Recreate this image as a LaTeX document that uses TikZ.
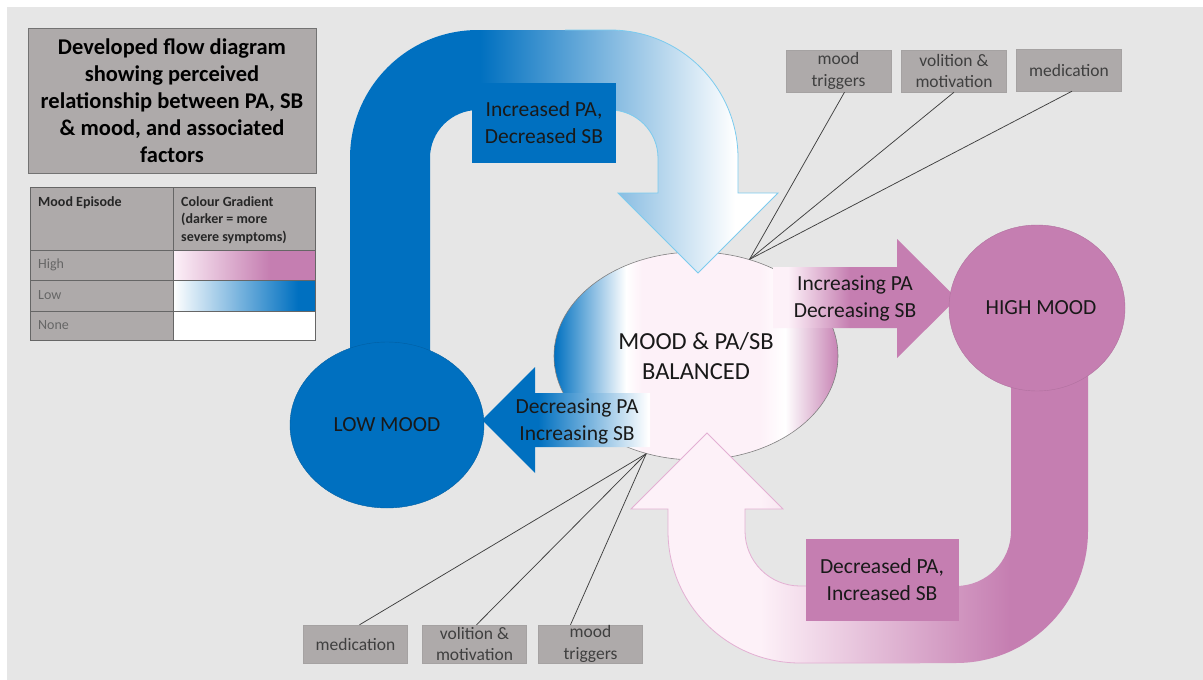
\documentclass[tikz,border=0pt]{standalone}
\usepackage{fontspec}
\setmainfont{Carlito}
\usetikzlibrary{shapes.geometric}

\definecolor{bg}{HTML}{E6E6E6}
\definecolor{mblue}{HTML}{0070C0}
\definecolor{mpink}{HTML}{C57EB1}
\definecolor{palepink}{HTML}{FDF1F8}
\definecolor{boxgrey}{HTML}{AEAAAA}
\definecolor{txtgrey}{HTML}{3F3F3F}
\definecolor{edgeblue}{HTML}{7CCBEE}
\definecolor{edgepink}{HTML}{E3B0D3}

% outline of the blue U-shaped arrow (low mood -> balanced)
\def\bluearcpath{(350,365) -- (350,158) .. controls (350,87.3) and (407.3,30) .. (478,30) -- (610,30) .. controls (680.7,30) and (738,87.3) .. (738,158) -- (738,193) -- (778,193) -- (698,273) -- (618,193) -- (658,193) -- (658,158) .. controls (658,131.5) and (636.5,110) .. (610,110) -- (478,110) .. controls (451.5,110) and (430,131.5) .. (430,158) -- (430,365) -- cycle}
% outline of the pink U-shaped arrow (high mood -> balanced)
\def\pinkarcpath{(707,433) -- (783,509) -- (745,509) -- (745,531) .. controls (745,561.4) and (769.6,586) .. (800,586) -- (956,586) .. controls (986.4,586) and (1011,561.4) .. (1011,531) -- (1011,360) -- (1088,360) -- (1088,531) .. controls (1088,603.9) and (1028.9,663) .. (956,663) -- (800,663) .. controls (727.1,663) and (668,603.9) .. (668,531) -- (668,509) -- (631,509) -- cycle}
% straight arrows
\def\rightarrowpath{(773,267) -- (897,267) -- (897,239) -- (957,298.5) -- (897,358) -- (897,328) -- (773,328) -- cycle}
\def\leftarrowpath{(650,393) -- (535,393) -- (535,367) -- (482,420) -- (535,473) -- (535,447) -- (650,447) -- cycle}

\begin{document}
\begin{tikzpicture}[x=1pt,y=-1pt,
  lbl/.style={font=\fontsize{21.5}{27}\selectfont, align=center, text=black!90},
  factor/.style={fill=boxgrey, draw=boxgrey!95!black, line width=0.4pt, minimum width=105pt, minimum height=42pt, inner sep=0pt, align=center, text=txtgrey, font=\fontsize{17.5}{21.5}\selectfont},
  factorlow/.style={factor, minimum width=104pt, minimum height=38pt},
  link/.style={draw=black!75, line width=0.75pt},
  mood/.style={ellipse, inner sep=0pt, align=center, font=\fontsize{21.5}{27}\selectfont, text=black!90},
  hdr/.style={anchor=north west, inner sep=0pt, align=left, font=\bfseries\fontsize{14}{17.5}\selectfont, text=black!85},
  rowlbl/.style={anchor=west, inner sep=0pt, font=\fontsize{14}{17}\selectfont, text=black!60},
]
\useasboundingbox (0,0) rectangle (1203,680);
\fill[white] (0,0) rectangle (1203,680);
\fill[bg] (7,7) rectangle (1203,680);

% ---------- title and legend ----------
\node[draw=black!55, fill=boxgrey, line width=0.8pt, minimum width=288pt, minimum height=145pt, inner sep=0pt, align=center, font=\bfseries\fontsize{22.5}{27}\selectfont] (title) at (172,100.5)
  {Developed flow diagram\\showing perceived\\relationship between PA, SB\\\& mood, and associated\\factors};

\fill[boxgrey] (30,187) rectangle (315,250);
\fill[boxgrey] (30,250) rectangle (173,340);
\shade[left color=palepink, right color=mpink] (173,250) rectangle (270,280);
\fill[mpink] (270,250) rectangle (315,280);
\shade[left color=white, right color=mblue] (173,280) rectangle (298,311);
\fill[mblue] (298,280) rectangle (315,311);
\fill[white] (173,311) rectangle (315,340);
\draw[black!60, line width=0.8pt] (30,187) rectangle (315,340)
  (173,187) -- (173,340) (30,250) -- (315,250) (30,280) -- (315,280) (30,311) -- (315,311);
\node[hdr] (hdrepisode) at (38,196) {Mood Episode};
\node[hdr] (hdrgradient) at (181,196) {Colour Gradient\\(darker = more\\severe symptoms)};
\node[rowlbl] (rowhigh) at (38,265) {High};
\node[rowlbl] (rowlow) at (38,295.5) {Low};
\node[rowlbl] (rownone) at (38,325.5) {None};

% ---------- balanced state ----------
\begin{scope}
  \clip (696,356) ellipse [x radius=142pt, y radius=104pt];
  \fill[palepink] (550,250) rectangle (842,462);
  \shade[left color=mblue, right color=white] (554,250) rectangle (626,462);
  \shade[left color=white, right color=palepink] (626,250) rectangle (642,462);
  \shade[left color=palepink, right color=white] (760,250) rectangle (785,462);
  \shade[left color=white, right color=mpink] (785,250) rectangle (840,462);
\end{scope}
\node[mood, draw=black!50, line width=0.6pt, minimum width=284pt, minimum height=208pt, font=\fontsize{24.5}{30}\selectfont] (mid) at (696,356) {MOOD \& PA/SB\\BALANCED};

% ---------- blue U arrow ----------
\begin{scope}
  \clip \bluearcpath;
  \fill[mblue] (340,20) rectangle (480,370);
  \shade[left color=mblue, right color=white] (480,20) rectangle (735,370);
  \fill[white] (735,20) rectangle (790,370);
\end{scope}
\begin{scope}
  \clip (565,0) rectangle (800,300);
  \draw[edgeblue, line width=0.8pt] \bluearcpath;
\end{scope}

% ---------- pink U arrow ----------
\begin{scope}
  \clip \pinkarcpath;
  \fill[palepink] (620,420) rectangle (760,670);
  \shade[left color=palepink, right color=mpink] (760,420) rectangle (1010,670);
  \fill[mpink] (1010,350) rectangle (1100,670);
\end{scope}
\begin{scope}
  \clip (600,400) rectangle (920,680);
  \draw[edgepink, line width=0.8pt] \pinkarcpath;
\end{scope}

% ---------- straight arrows ----------
\begin{scope}
  \clip \rightarrowpath;
  \fill[palepink] (770,230) rectangle (788,365);
  \shade[left color=palepink, right color=mpink] (788,230) rectangle (850,365);
  \fill[mpink] (850,230) rectangle (960,365);
\end{scope}
\begin{scope}
  \clip \leftarrowpath;
  \fill[mblue] (480,360) rectangle (538,480);
  \shade[left color=mblue, right color=white] (538,360) rectangle (648,480);
  \fill[white] (648,360) rectangle (652,480);
\end{scope}

% ---------- mood states ----------
\node[mood, fill=mblue, draw=mblue!85!black, line width=0.4pt, minimum width=194pt, minimum height=166pt] (low) at (387,425) {LOW MOOD};
\node[mood, fill=mpink, draw=mpink!90!black, line width=0.4pt, minimum width=176pt, minimum height=166pt] (high) at (1037,308) {\hspace*{8pt}HIGH MOOD};

% ---------- arrow labels ----------
\node[lbl, fill=mblue, minimum width=144pt, minimum height=80pt, inner sep=0pt] (upbox) at (544,123) {Increased PA,\\Decreased SB};
\node[lbl, fill=mpink, minimum width=153pt, minimum height=82pt, inner sep=0pt] (downbox) at (882,580) {Decreased PA,\\Increased SB};
\node[lbl, inner sep=0pt] (towardhigh) at (855,298.5) {Increasing PA\\Decreasing SB};
\node[lbl, inner sep=0pt] (towardlow) at (577,421) {Decreasing PA\\Increasing SB};

% ---------- associated factors ----------
\node[factor] (tmood) at (838.5,71) {mood\\triggers};
\node[factor] (tvol) at (954,71) {volition \&\\motivation};
\node[factor] (tmed) at (1069,70) {medication};
\node[factorlow] (bmed) at (355.5,644) {medication};
\node[factorlow] (bvol) at (474.5,644) {volition \&\\motivation};
\node[factorlow] (bmood) at (590.5,644) {mood\\triggers};

\draw[link] ([xshift=6pt]tmood.south) -- (mid.61.8);
\draw[link] (tvol.south) -- (mid.61.8);
\draw[link] ([xshift=3pt]tmed.south) -- (mid.61.8);
\draw[link] ([xshift=4pt]bmed.north) -- (mid.243.7);
\draw[link] ([xshift=2pt]bvol.north) -- (mid.243.7);
\draw[link] ([xshift=-20pt]bmood.north) -- (mid.243.7);
\end{tikzpicture}
\end{document}
